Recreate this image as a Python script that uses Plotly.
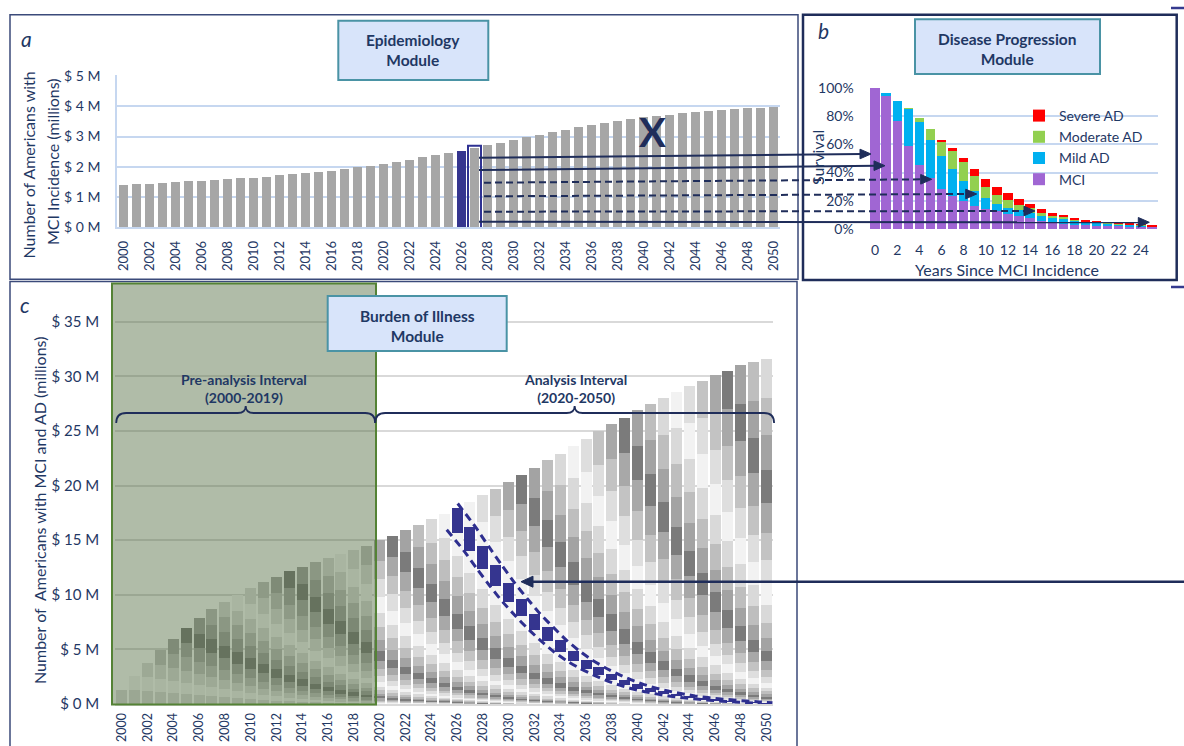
import plotly.graph_objects as go

W, H = 1184, 746
NAVY = '#1f3864'
INK = '#1f2d5a'
FONT = 'Lato, Carlito, Calibri, sans-serif'

# ---------------- data ----------------
years = list(range(2000, 2051))

# Panel a: new MCI cases per year (millions)
mci_incidence_m = [1.38, 1.41, 1.44, 1.46, 1.49, 1.51, 1.53, 1.56, 1.58, 1.61,
                   1.63, 1.66, 1.72, 1.75, 1.79, 1.83, 1.87, 1.91, 1.98, 2.02,
                   2.09, 2.17, 2.23, 2.31, 2.39, 2.45, 2.52, 2.61, 2.71, 2.79,
                   2.88, 2.97, 3.06, 3.14, 3.22, 3.30, 3.37, 3.44, 3.51, 3.58,
                   3.64, 3.69, 3.73, 3.77, 3.82, 3.86, 3.89, 3.92, 3.94, 3.96, 3.98]

# Panel b: share of an incident cohort alive in each state (%)
years_since = list(range(0, 26))
mci_pct = [100, 94.4, 76.5, 59.2, 45.3, 35.9, 28.4, 23.7, 19.5, 16.4, 14.3, 12.4, 10.8,
           9.4, 7.5, 5.4, 4.7, 3.8, 3.1, 2.6, 2.3, 2.1, 1.9, 1.7, 1.5, 1.4]
mild_pct = [0, 1.8, 14.6, 25.8, 30.8, 27.5, 23.2, 18.6, 14.8, 10.8, 7.5, 5.2, 4.2,
            3.7, 3.8, 4.0, 3.3, 3.5, 2.5, 1.9, 1.7, 1.5, 1.3, 1.1, 0.9, 0.2]
moderate_pct = [0, 0, 0, 0.5, 2.8, 7.5, 10.4, 13.3, 13.1, 10.4, 8.0, 6.6, 5.4,
                3.6, 3.3, 1.9, 1.4, 1.2, 1.0, 0.7, 0.6, 0.5, 0.4, 0.4, 0.3, 0.1]
severe_pct = [0, 0, 0, 0, 0, 0, 0.9, 2.1, 3.3, 5.1, 5.4, 5.4, 5.4,
              4.7, 3.2, 2.5, 1.9, 1.2, 0.9, 0.7, 0.4, 0.4, 0.3, 0.3, 0.3, 0.3]

# Panel c: total people living with MCI or AD (millions)
burden_total_m = [1.28, 2.55, 3.77, 4.95, 5.99, 6.96, 7.84, 8.66, 9.36, 10.0,
                  10.6, 11.15, 11.67, 12.16, 12.58, 12.98, 13.4, 13.74, 14.13, 14.5,
                  15.0, 15.4, 15.9, 16.4, 16.9, 17.4, 17.9, 18.5, 19.1, 19.7,
                  20.3, 21.0, 21.6, 22.3, 22.9, 23.6, 24.3, 25.0, 25.6, 26.2,
                  26.9, 27.5, 28.0, 28.6, 29.1, 29.6, 30.1, 30.5, 31.0, 31.3, 31.6]

HIGHLIGHT = 2026
a_ticks = list(range(2000, 2051, 2))
b_ticks = list(range(0, 25, 2))


# ---------------- layout helpers ----------------
def fx(px):
    return px / W


def fy(py):
    return 1 - py / H


def P(x, y):
    return f'{fx(x):.5f},{fy(y):.5f}'


A_X0, A_X1, A_Y0, A_Y1 = 117, 780, 227, 75.3
B_X0, B_X1, B_Y0, B_Y1 = 869.5, 1157.5, 229.3, 87.3
C_X0, C_X1, C_Y0, C_Y1 = 115.2, 773.1, 704, 320


def xc(year):
    """pixel x of a year on the panel c axis"""
    return C_X0 + (year - 1999.5) * (C_X1 - C_X0) / 51


fig = go.Figure()

# ---------------- panel a ----------------
a_colors = ['#35358f' if y == HIGHLIGHT else '#a6a6a6' for y in years]
fig.add_trace(go.Bar(x=years, y=mci_incidence_m, width=0.72, marker=dict(color=a_colors, line_width=0),
                     xaxis='x', yaxis='y', showlegend=False, hoverinfo='x+y'))

# ---------------- panel b ----------------
for name, vals, col in [('MCI', mci_pct, '#a066d3'), ('Mild AD', mild_pct, '#00b0f0'),
                        ('Moderate AD', moderate_pct, '#92d050'), ('Severe AD', severe_pct, '#ff0000')]:
    fig.add_trace(go.Bar(x=years_since, y=vals, name=name, width=0.84,
                         marker=dict(color=col, line_width=0), xaxis='x2', yaxis='y2'))

# ---------------- panel c: cohorts stacked by incidence year ----------------
survival = [(m + a + b + c) / 100 for m, a, b, c in zip(mci_pct, mild_pct, moderate_pct, severe_pct)]
n = len(years)
segments = [[0.0] * n for _ in range(n)]
for yi in range(n):
    w = [mci_incidence_m[ci] * survival[yi - ci] if yi - ci < len(survival) else 0.0 for ci in range(yi + 1)]
    k = burden_total_m[yi] / sum(w)
    for ci in range(yi + 1):
        segments[ci][yi] = w[ci] * k

GRAYS = ['#d9d9d9', '#f2f2f2', '#dedede', '#c3c3c3', '#a8a8a8', '#7b7b7b', '#a3a3a3', '#bebebe']


def cohort_color(cy):
    if cy == HIGHLIGHT:
        return '#35358f'
    base = 2000 if cy < HIGHLIGHT else HIGHLIGHT
    return GRAYS[(cy - base) % len(GRAYS)]


for ci, cy in enumerate(years):
    fig.add_trace(go.Bar(x=years[ci:], y=segments[ci][ci:], width=0.85,
                         marker=dict(color=cohort_color(cy), line_width=0),
                         xaxis='x3', yaxis='y3', showlegend=False, hoverinfo='x+y'))

# dashed envelope around the highlighted cohort
hi = years.index(HIGHLIGHT)
below = [sum(segments[c][yi] for c in range(hi)) for yi in range(n)]
top = [below[yi] + segments[hi][yi] for yi in range(n)]
up_x = [HIGHLIGHT + 0.05] + [years[yi] + 0.45 for yi in range(hi + 1, n)]
up_y = [top[hi] + 0.45] + [top[yi] for yi in range(hi + 1, n)]
lo_x = [HIGHLIGHT - 0.8] + [years[yi] - 0.45 for yi in range(hi + 1, n)]
lo_y = [below[hi] + 0.3] + [below[yi] for yi in range(hi + 1, n)]
for xs, ys in [(up_x, up_y), (lo_x, lo_y)]:
    fig.add_trace(go.Scatter(x=xs, y=ys, mode='lines', xaxis='x3', yaxis='y3', showlegend=False,
                             line=dict(color='#2e2f8f', width=3, dash='8px,5px', shape='spline', smoothing=0.6),
                             hoverinfo='skip'))

# ---------------- axes ----------------
tickfont = dict(family=FONT, size=14, color=NAVY)
common = dict(ticks='outside', tickcolor='rgba(0,0,0,0)', automargin=False, zeroline=False)

fig.update_layout(
    xaxis=dict(domain=[fx(A_X0), fx(A_X1)], range=[1999.5, 2050.5], anchor='y',
               tickvals=a_ticks, ticktext=[str(t) for t in a_ticks], tickangle=-90,
               tickfont=dict(family=FONT, size=13, color=NAVY), ticklen=7, **common,
               showline=True, linecolor='#c6d7f0', linewidth=1.5, showgrid=False),
    yaxis=dict(domain=[fy(A_Y0), fy(A_Y1)], range=[0, 5.03], anchor='x',
               tickvals=[0, 1, 2, 3, 4, 5], ticktext=[f'$ {v} M' for v in range(6)],
               tickfont=tickfont, ticklen=12, **common,
               showline=True, linecolor='#c6d7f0', linewidth=1.5,
               gridcolor='#c6d7f0', gridwidth=1.5),
    xaxis2=dict(domain=[fx(B_X0), fx(B_X1)], range=[-0.5, 25.5], anchor='y2',
                tickvals=b_ticks, ticktext=[str(t) for t in b_ticks], tickangle=0,
                tickfont=tickfont, ticklen=8, **common,
                showline=False, showgrid=False),
    yaxis2=dict(domain=[fy(B_Y0), fy(B_Y1)], range=[-0.3, 100.6], anchor='x2',
                tickvals=[0, 20, 40, 60, 80, 100], ticktext=[f'{v}%' for v in range(0, 101, 20)],
                tickfont=tickfont, ticklen=12, **common,
                showline=False, gridcolor='#c6d7f0', gridwidth=1.5),
    xaxis3=dict(domain=[fx(C_X0), fx(C_X1)], range=[1999.5, 2050.5], anchor='y3',
                tickvals=a_ticks, ticktext=[str(t) for t in a_ticks], tickangle=-90,
                tickfont=dict(family=FONT, size=12.5, color=NAVY), ticklen=2, **common,
                showline=True, linecolor='#d9d9d9', linewidth=2, showgrid=False),
    yaxis3=dict(domain=[fy(C_Y0), fy(C_Y1)], range=[0, 35.15], anchor='x3',
                tickvals=list(range(0, 36, 5)), ticktext=[f'$ {v} M' for v in range(0, 36, 5)],
                tickfont=dict(family=FONT, size=15, color=NAVY), ticklen=12, **common,
                showline=False, gridcolor='#d9d9d9', gridwidth=2),
)

# ---------------- shapes ----------------
shapes = []


def rect(x0, y0, x1, y1, color, width, fill='rgba(0,0,0,0)', layer='above'):
    shapes.append(dict(type='rect', xref='paper', yref='paper', x0=fx(x0), x1=fx(x1), y0=fy(y1), y1=fy(y0),
                       line=dict(color=color, width=width), fillcolor=fill, layer=layer))


def seg(x0, y0, x1, y1, color=INK, width=2, dash='solid'):
    shapes.append(dict(type='line', xref='paper', yref='paper', x0=fx(x0), y0=fy(y0), x1=fx(x1), y1=fy(y1),
                       line=dict(color=color, width=width, dash=dash), layer='above'))


def head(tx, ty, direction=1, L=11, hw=4.8, color=INK):
    bx = tx - direction * L
    shapes.append(dict(type='path', xref='paper', yref='paper',
                       path=f'M{P(tx, ty)} L{P(bx, ty - hw)} L{P(bx, ty + hw)} Z',
                       fillcolor=color, line=dict(color=color, width=1), layer='above'))


# panel frames
rect(10, 14.7, 798, 279.3, '#3b4a7a', 1.5, layer='below')
rect(803, 14.7, 1176.7, 280, INK, 2.5)
rect(10, 281.5, 797, 770, '#3b4a7a', 1.5, layer='below')

# pre-analysis shading
rect(112, 283.5, 376, 704.5, '#548235', 2, fill='rgba(75,103,57,0.44)')

# module title boxes
for x0, y0, x1, y1 in [(338.3, 20.7, 488.3, 80), (915, 19.3, 1100, 74), (327.7, 296, 506.7, 351)]:
    rect(x0, y0, x1, y1, '#4a93a5', 2, fill='#d8e4fa')

# outline around the next incidence year in panel a
shapes.append(dict(type='rect', xref='x', yref='y', x0=HIGHLIGHT + 0.5, x1=HIGHLIGHT + 1.5,
                   y0=-0.04, y1=mci_incidence_m[hi + 1] + 0.08,
                   line=dict(color='#2e3192', width=2), layer='above'))

# connectors from panel a to panel b
for x0, y0, tx, ty, dash in [(479, 157.7, 871, 154.0, 'solid'), (479, 170.0, 885, 165.7, 'solid'),
                             (484, 182.7, 931.7, 179.3, '7px,4px'), (484, 196.3, 976.7, 194.0, '7px,4px'),
                             (484, 211.7, 1035, 211.0, '7px,4px'), (479, 221.7, 1149.3, 222.3, 'solid')]:
    seg(x0, y0, tx - 9, ty, dash=dash)
    head(tx, ty)


def brace(xl, xr, yb=413, drop=10, tip=7):
    xm = (xl + xr) / 2
    return (f'M{P(xl, yb + drop)} Q{P(xl, yb)} {P(xl + 10, yb)} L{P(xm - 8, yb)} '
            f'Q{P(xm, yb)} {P(xm, yb - tip)} Q{P(xm, yb)} {P(xm + 8, yb)} '
            f'L{P(xr - 10, yb)} Q{P(xr, yb)} {P(xr, yb + drop)}')


for xl, xr in [(xc(1999.5) + 1, xc(2019.5) + 2), (xc(2019.5) + 2, xc(2050.5) + 1)]:
    shapes.append(dict(type='path', xref='paper', yref='paper', path=brace(xl, xr),
                       line=dict(color=INK, width=1.8), layer='above'))

# arrow into panel c and the bracket on the right edge
seg(1190, 581.7, 521 + 9, 581.7, width=2.5)
head(521, 581.7, direction=-1, L=12, hw=5.5)
seg(1171, 8, 1190, 8, color='#353a8f', width=2.5)
seg(1171, 287, 1190, 287, color='#353a8f', width=2.5)

# ---------------- text ----------------
ann = []


def text(x, y, s, size=15, bold=False, italic=False, angle=0, color=NAVY):
    if bold:
        s = f'<b>{s}</b>'
    if italic:
        s = f'<i>{s}</i>'
    ann.append(dict(x=fx(x), y=fy(y), xref='paper', yref='paper', text=s, showarrow=False,
                    xanchor='center', yanchor='middle', textangle=angle,
                    font=dict(family=FONT, size=size, color=color)))


text(26, 38, 'a', size=21, italic=True)
text(823, 30, 'b', size=21, italic=True)
text(25, 305, 'c', size=21, italic=True)

text(413, 50.5, 'Epidemiology<br>Module', size=15.5, bold=True)
text(1007.5, 49.5, 'Disease Progression<br>Module', size=15.5, bold=True)
text(417, 326, 'Burden of Illness<br>Module', size=15.5, bold=True)

text(28, 165.5, 'Number of Americans with', size=16, angle=-90)
text(52, 162, 'MCI Incidence (millions)', size=16, angle=-90)
text(652, 132, 'X', size=40, bold=True, color='#1f2d5a')

text(817, 158, 'Survival', size=16, angle=-90)
text(1006.7, 269, 'Years Since MCI Incidence', size=16)

text(39, 511, 'Number of&nbsp; Americans with MCI and AD (millions)', size=16, angle=-90)
text(xc(2009.5), 388.5, 'Pre-analysis Interval<br>(2000-2019)', size=14, bold=True)
text((xc(2019.5) + xc(2050.5)) / 2 + 2, 388.5, 'Analysis Interval<br>(2020-2050)', size=14, bold=True)

fig.update_layout(
    width=W, height=H, autosize=False,
    margin=dict(l=0, r=0, t=0, b=0, pad=0, autoexpand=False),
    paper_bgcolor='white', plot_bgcolor='rgba(0,0,0,0)',
    barmode='stack',
    font=dict(family=FONT, color=NAVY),
    shapes=shapes, annotations=ann,
    legend=dict(x=fx(1019), y=fy(100), xanchor='left', yanchor='top', traceorder='reversed',
                bgcolor='rgba(0,0,0,0)', font=dict(family=FONT, size=14, color=NAVY),
                itemwidth=30, tracegroupgap=0),
)

fig.write_html('out.html')
